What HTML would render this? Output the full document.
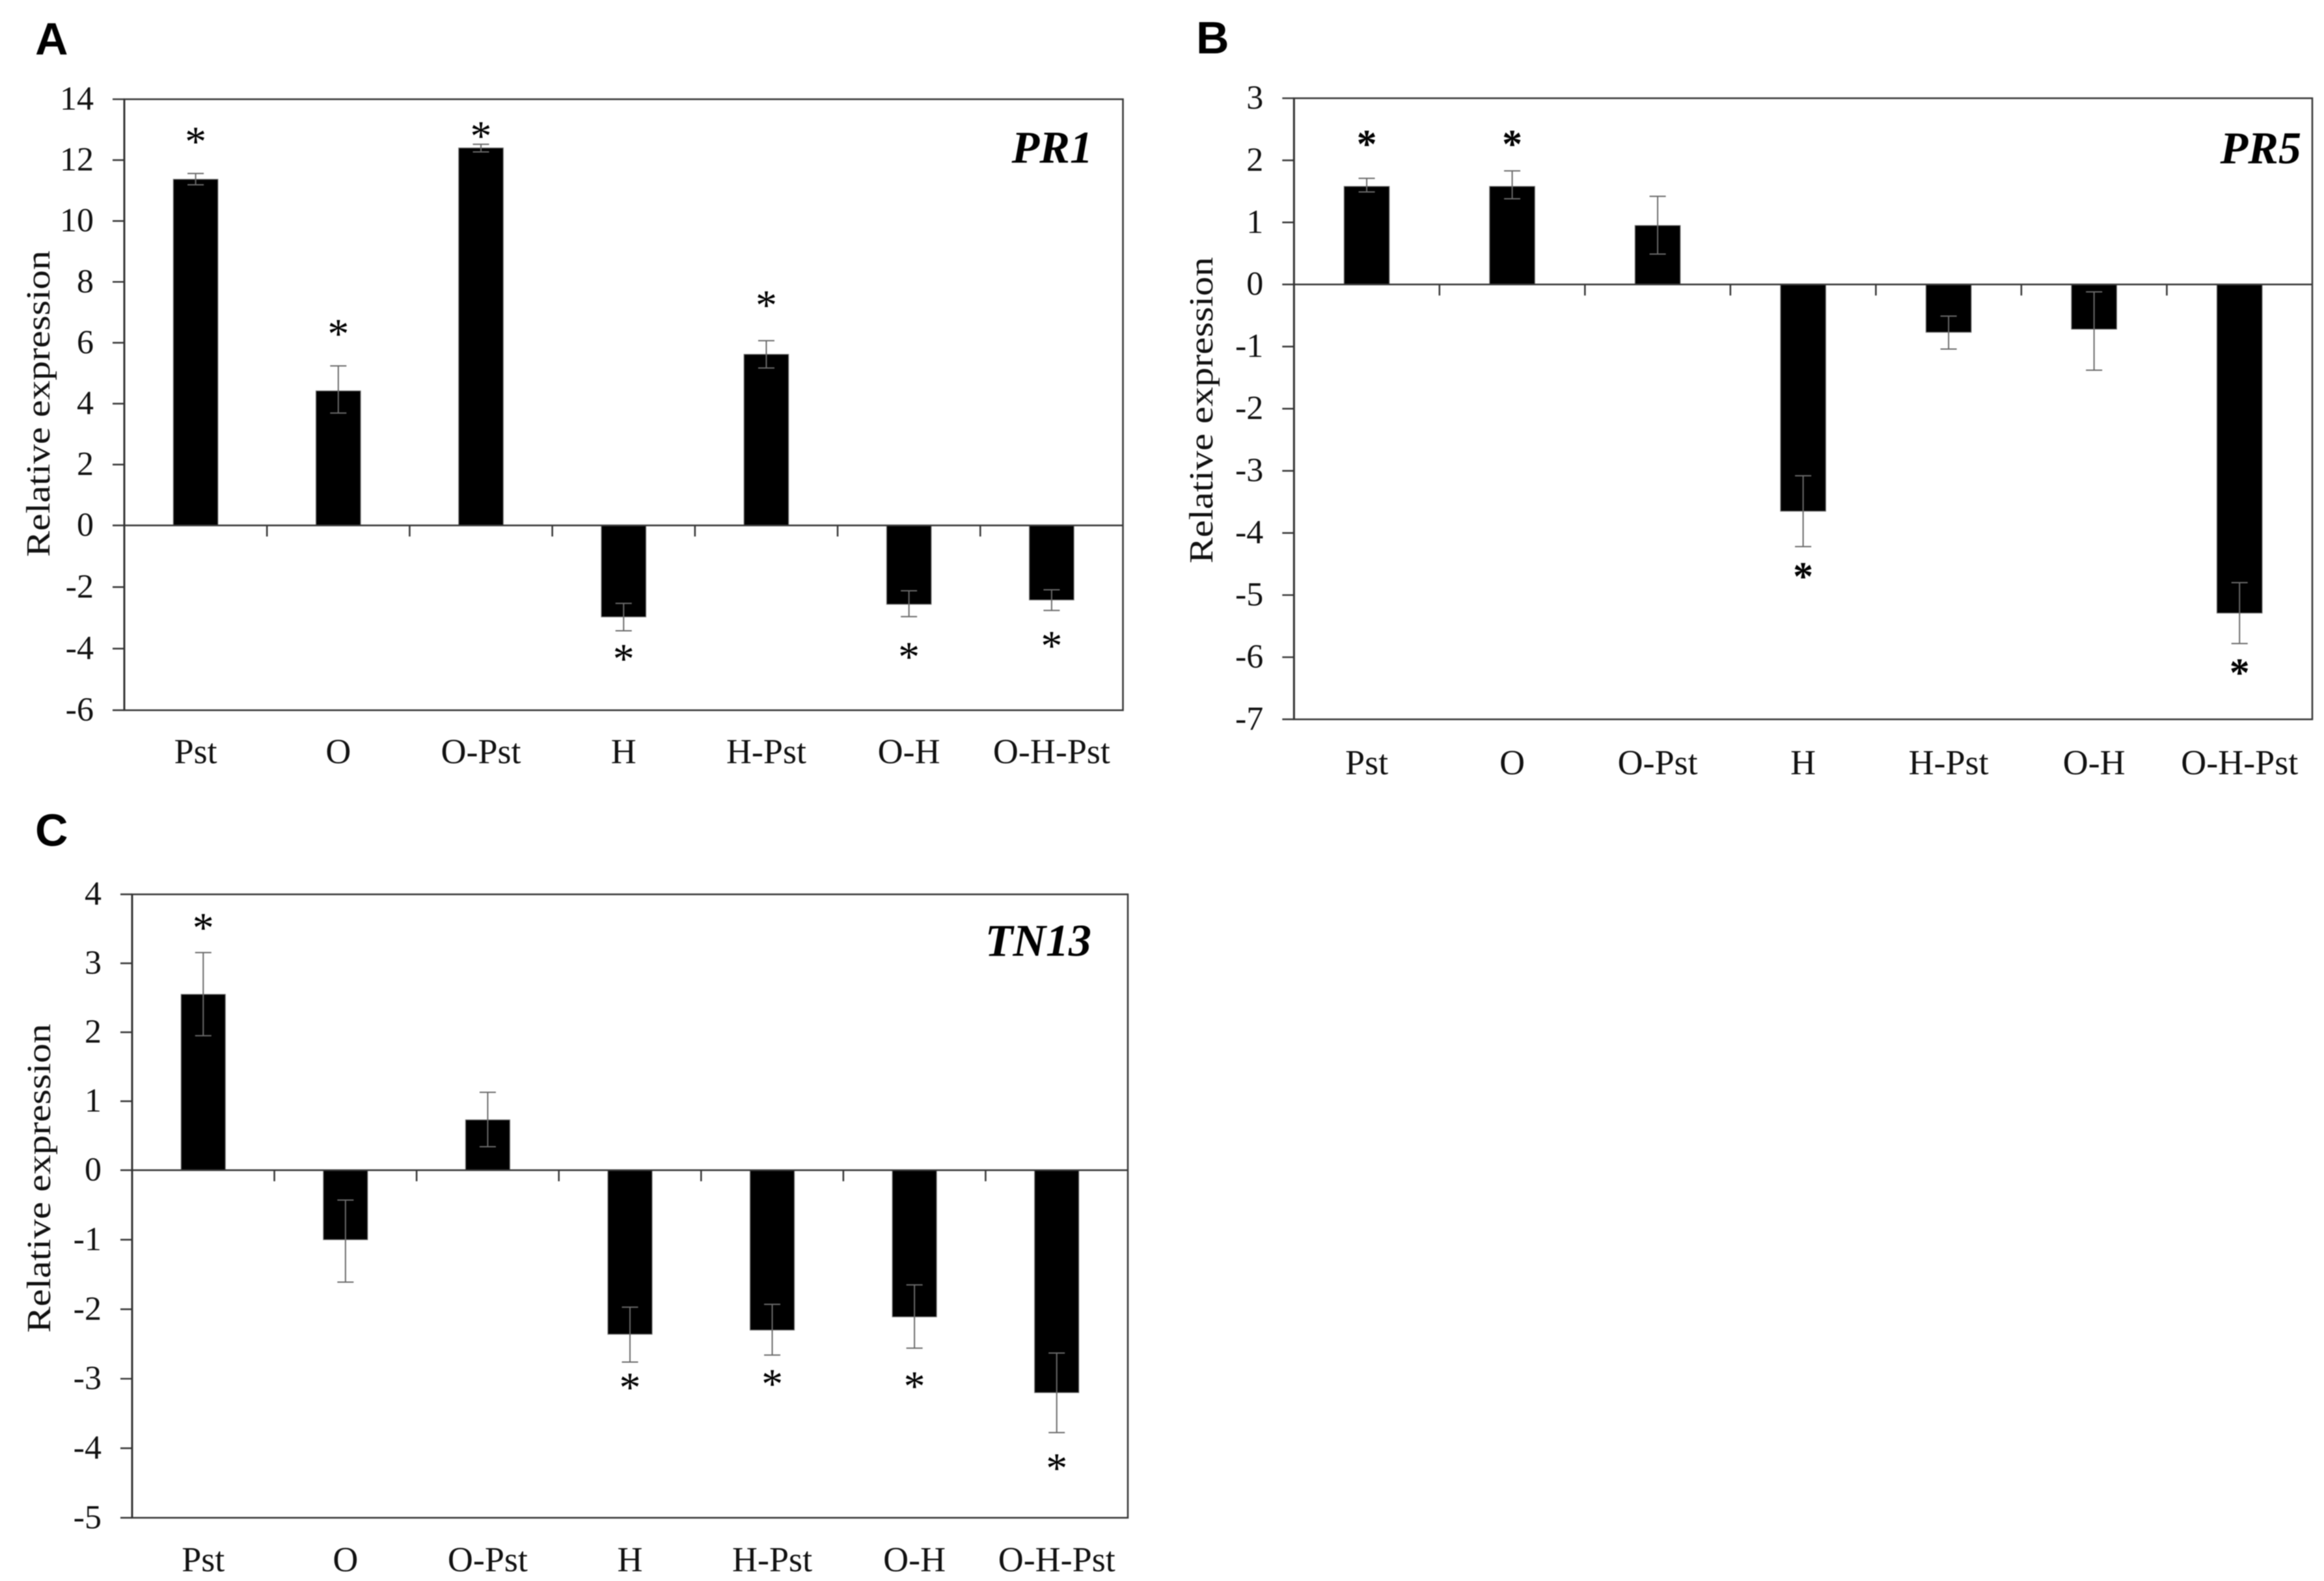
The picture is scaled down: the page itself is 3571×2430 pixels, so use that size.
<!DOCTYPE html>
<html lang="en">
<head>
<meta charset="utf-8">
<title>Relative expression of PR1, PR5 and TN13</title>
<style>
  html, body { margin: 0; padding: 0; background: #ffffff; }
  #figure { display: block; width: 3571px; height: 2430px; background: #ffffff; filter: blur(0.7px); }
  text { font-family: "Liberation Serif", "Times New Roman", serif; fill: #111; }
  .panel-letter { font-family: "Liberation Sans", Arial, sans-serif; font-weight: 700; font-size: 70px; fill: #000; }
  .gene { font-weight: 700; font-style: italic; font-size: 70px; fill: #000; }
  .tick-label { font-size: 52px; }
  .cat-label { font-size: 54px; }
  .y-title { font-size: 52px; }
  .star { font-size: 66px; fill: #000; }
  .star-bold { font-size: 62px; font-weight: 700; fill: #000; }
</style>
</head>
<body>
<svg id="figure" xmlns="http://www.w3.org/2000/svg" width="3571" height="2430" viewBox="0 0 3571 2430"></svg>
<script>
const categories = ["Pst", "O", "O-Pst", "H", "H-Pst", "O-H", "O-H-Pst"];

const pr1Ticks  = [14, 12, 10, 8, 6, 4, 2, 0, -2, -4, -6];
const pr1Values = [11.37, 4.42, 12.40, -2.97, 5.62, -2.56, -2.42];
const pr1Upper  = [11.56, 5.24, 12.52, -2.53, 6.07, -2.12, -2.09];
const pr1Lower  = [11.19, 3.69, 12.27, -3.42, 5.17, -2.96, -2.76];
const pr1Stars  = [12.8, 6.49, 12.99, -4.14, 7.43, -4.08, -3.72];

const pr5Ticks  = [3, 2, 1, 0, -1, -2, -3, -4, -5, -6, -7];
const pr5Values = [1.58, 1.58, 0.95, -3.65, -0.77, -0.72, -5.29];
const pr5Upper  = [1.71, 1.83, 1.42, -3.08, -0.51, -0.12, -4.80];
const pr5Lower  = [1.49, 1.38, 0.49, -4.22, -1.04, -1.38, -5.78];
const pr5Stars  = [2.35, 2.35, null, -4.61, null, null, -6.16];

const tn13Ticks  = [4, 3, 2, 1, 0, -1, -2, -3, -4, -5];
const tn13Values = [2.55, -1.0, 0.73, -2.36, -2.30, -2.11, -3.20];
const tn13Upper  = [3.155, -0.43, 1.13, -1.97, -1.93, -1.65, -2.63];
const tn13Lower  = [1.95, -1.61, 0.34, -2.76, -2.66, -2.56, -3.775];
const tn13Stars  = [3.6, null, null, -3.04, -2.99, -3.02, -4.2];

const svg = document.getElementById('figure');
const NS = 'http://www.w3.org/2000/svg';

function make(parent, tag, attrs, content) {
  const el = document.createElementNS(NS, tag);
  for (const k in attrs) el.setAttribute(k, attrs[k]);
  if (content !== undefined) el.textContent = content;
  parent.appendChild(el);
  return el;
}

function slug(s) { return s.toLowerCase(); }

function drawPanel(p) {
  const group = make(svg, 'g', {});
  
  

  const maxV = p.ticks[0];
  const minV = p.ticks[p.ticks.length - 1];
  const yScale = v => v >= 0
    ? p.zero - v * (p.zero - p.top) / maxV
    : p.zero + (-v) * (p.bottom - p.zero) / (-minV);
  const step = (p.right - p.left) / categories.length;
  const xCenter = i => p.left + step * (i + 0.5);

  const letter = make(group, 'text', { x: p.letterX, y: p.letterY, class: 'panel-letter' }, p.letter);
  
  

  const frame = make(group, 'rect', {
    x: p.left, y: p.top, width: p.right - p.left, height: p.bottom - p.top,
    fill: 'none', stroke: '#3a3a3a', 'stroke-width': 2.6
  });
  
  

  const yTitle = make(group, 'text', {
    class: 'y-title', 'text-anchor': 'middle',
    transform: 'translate(' + p.titleX + ',' + p.titleY + ') rotate(-90)',
    textLength: p.titleLen, lengthAdjust: 'spacingAndGlyphs'
  }, 'Relative expression');
  
  

  p.ticks.forEach(t => {
    const y = yScale(t);
    const tick = make(group, 'line', {
      x1: p.left - 18, x2: p.left, y1: y, y2: y, stroke: '#3a3a3a', 'stroke-width': 2.6
    });
    
    
    const label = make(group, 'text', {
      x: p.left - 47, y: y + 16, 'text-anchor': 'end', class: 'tick-label'
    }, String(t));
    
    
  });

  categories.forEach((c, i) => {
    const x = xCenter(i);
    const v = p.values[i];
    const y = yScale(v);
    const bar = make(group, 'rect', {
      x: x - p.barWidth / 2, y: Math.min(y, yScale(0)),
      width: p.barWidth, height: Math.abs(y - yScale(0)),
      fill: '#000', stroke: '#777', 'stroke-width': 1.2
    });
    
    

    const err = make(group, 'path', {
      d: 'M' + x + ' ' + yScale(p.upper[i]) + 'V' + yScale(p.lower[i]) +
         'M' + (x - 12.5) + ' ' + yScale(p.upper[i]) + 'H' + (x + 12.5) +
         'M' + (x - 12.5) + ' ' + yScale(p.lower[i]) + 'H' + (x + 12.5),
      fill: 'none', stroke: '#6a6a6a', 'stroke-width': 2
    });
    
    

    if (p.stars[i] !== null) {
      const star = make(group, 'text', {
        x: x, y: yScale(p.stars[i]) + p.starShift, 'text-anchor': 'middle', class: p.starClass
      }, '*');
      
      
    }

    const catLabel = make(group, 'text', {
      x: x, y: p.catY, 'text-anchor': 'middle', class: 'cat-label'
    }, c);
    
    
  });

  const zeroLine = make(group, 'line', {
    x1: p.left, x2: p.right, y1: yScale(0), y2: yScale(0), stroke: '#3a3a3a', 'stroke-width': 2.6
  });
  
  

  for (let i = 1; i < categories.length; i++) {
    const xt = p.left + step * i;
    const xTick = make(group, 'line', {
      x1: xt, x2: xt, y1: yScale(0), y2: yScale(0) + 17, stroke: '#3a3a3a', 'stroke-width': 2.6
    });
    
    
  }

  const leftAxis = make(group, 'line', {
    x1: p.left, x2: p.left, y1: p.top, y2: p.bottom, stroke: '#333', 'stroke-width': 3
  });
  
  

  const gene = make(group, 'text', {
    x: p.geneX, y: p.geneY, 'text-anchor': 'end', class: 'gene'
  }, p.gene);
  
  
}

drawPanel({
  key: 'a', letter: 'A', letterX: 54, letterY: 84, gene: 'PR1', geneX: 1679, geneY: 250,
  left: 191, right: 1725.5, top: 152.5, bottom: 1091.6, zero: 807.6,
  barWidth: 68.5, catY: 1173, titleX: 76, titleY: 620.5, titleLen: 471,
  starClass: 'star', starShift: 31,
  ticks: pr1Ticks, values: pr1Values, upper: pr1Upper, lower: pr1Lower, stars: pr1Stars
});

drawPanel({
  key: 'b', letter: 'B', letterX: 1838, letterY: 82, gene: 'PR5', geneX: 3536, geneY: 251,
  left: 1988.3, right: 3553, top: 151, bottom: 1105.6, zero: 437.2,
  barWidth: 69.5, catY: 1190, titleX: 1863, titleY: 630.5, titleLen: 471,
  starClass: 'star-bold', starShift: 29,
  ticks: pr5Ticks, values: pr5Values, upper: pr5Upper, lower: pr5Lower, stars: pr5Stars
});

drawPanel({
  key: 'c', letter: 'C', letterX: 54, letterY: 1300, gene: 'TN13', geneX: 1677, geneY: 1469,
  left: 203, right: 1733, top: 1374.6, bottom: 2332.8, zero: 1798.6,
  barWidth: 68, catY: 2415, titleX: 77, titleY: 1811, titleLen: 475,
  starClass: 'star', starShift: 31,
  ticks: tn13Ticks, values: tn13Values, upper: tn13Upper, lower: tn13Lower, stars: tn13Stars
});
</script>
</body>
</html>
